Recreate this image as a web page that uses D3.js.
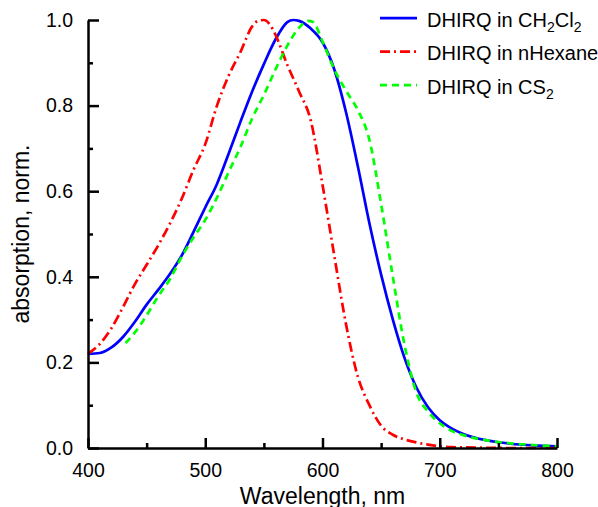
<!DOCTYPE html>
<html>
<head>
<meta charset="utf-8">
<script src="https://cdn.jsdelivr.net/npm/d3@7.9.0/dist/d3.min.js"></script>
<style>
  body { margin: 0; background: #fff; }
  svg { display: block; font-family: 'Liberation Sans', Arial, sans-serif; }
  .axis path, .axis line { stroke: #000; stroke-width: 2.5; }
  .axis text { font-size: 19.5px; fill: #000; }
</style>
</head>
<body>
<div id="chart"></div>
<script>
// wavelength (nm) / normalised absorption
const ch2cl2Wl  = [400, 410, 420, 430, 440, 450, 460, 470, 480, 490, 500, 510, 520, 530, 540, 550, 560, 570, 575, 580, 590, 600, 610, 620, 630, 640, 650, 660, 670, 680, 690, 700, 710, 720, 740, 760, 780, 800];
const ch2cl2Abs = [0.22, 0.222, 0.235, 0.26, 0.295, 0.335, 0.37, 0.407, 0.45, 0.505, 0.562, 0.617, 0.688, 0.762, 0.833, 0.897, 0.955, 0.995, 1.0, 0.998, 0.98, 0.948, 0.885, 0.785, 0.66, 0.525, 0.405, 0.3, 0.21, 0.142, 0.095, 0.065, 0.046, 0.033, 0.018, 0.01, 0.006, 0.004];

const hexaneWl  = [400, 410, 420, 430, 440, 450, 460, 470, 480, 490, 500, 510, 520, 530, 540, 545, 550, 555, 560, 570, 580, 590, 600, 610, 620, 630, 640, 650, 660, 670, 680, 690, 700, 710, 730, 760, 800];
const hexaneAbs = [0.22, 0.243, 0.28, 0.33, 0.383, 0.428, 0.474, 0.525, 0.583, 0.65, 0.71, 0.8, 0.87, 0.925, 0.985, 0.998, 1.0, 0.99, 0.965, 0.895, 0.833, 0.765, 0.615, 0.45, 0.29, 0.168, 0.1, 0.052, 0.031, 0.02, 0.013, 0.008, 0.004, 0.002, 0.001, 0.0, 0.0];

const cs2Wl  = [432, 440, 450, 460, 470, 480, 490, 500, 510, 520, 530, 540, 550, 560, 570, 580, 588, 592, 600, 610, 620, 630, 640, 650, 660, 670, 680, 690, 700, 710, 720, 740, 760, 780, 800];
const cs2Abs = [0.245, 0.27, 0.31, 0.355, 0.395, 0.447, 0.492, 0.533, 0.585, 0.645, 0.703, 0.77, 0.825, 0.885, 0.94, 0.982, 0.998, 0.995, 0.95, 0.885, 0.835, 0.79, 0.72, 0.57, 0.4, 0.24, 0.13, 0.085, 0.058, 0.04, 0.03, 0.018, 0.011, 0.007, 0.004];

const xMajor = [400, 500, 600, 700, 800];
const xMinor = [450, 550, 650, 750];
const yMajor = [0.0, 0.2, 0.4, 0.6, 0.8, 1.0];
const yMinor = [0.1, 0.3, 0.5, 0.7, 0.9];

const series = [
  { name: ['DHIRQ in CH', '2', 'Cl', '2'], wl: ch2cl2Wl, abs: ch2cl2Abs, color: '#0000ff', dash: null },
  { name: ['DHIRQ in nHexane'], wl: hexaneWl, abs: hexaneAbs, color: '#ff0000', dash: '10,4,2,4' },
  { name: ['DHIRQ in CS', '2'], wl: cs2Wl, abs: cs2Abs, color: '#00ff00', dash: '7,5' },
];

const width = 598;
const height = 507;
const margin = { top: 20, right: 41, bottom: 59, left: 88 };

const svg = d3.select('#chart')
  .append('svg')
  .attr('width', width)
  .attr('height', height);

const x = d3.scaleLinear().domain([400, 800]).range([margin.left, width - margin.right]);
const y = d3.scaleLinear().domain([0, 1]).range([height - margin.bottom, margin.top]);

// curves first so the axes sit on top
const line = d3.line()
  .x((d) => x(d[0]))
  .y((d) => y(d[1]))
  .curve(d3.curveMonotoneX);

svg.append('g')
  .selectAll('path')
  .data(series)
  .join('path')
  .attr('fill', 'none')
  .attr('stroke', (d) => d.color)
  .attr('stroke-width', 2.7)
  .attr('stroke-dasharray', (d) => d.dash)
  .attr('d', (d) => line(d.wl.map((w, i) => [w, d.abs[i]])));

// minor ticks
svg.append('g')
  .attr('class', 'axis')
  .attr('transform', `translate(0,${y(0)})`)
  .call(d3.axisBottom(x).tickValues(xMinor).tickSize(-5).tickFormat(''))
  .call((g) => g.select('.domain').remove());

svg.append('g')
  .attr('class', 'axis')
  .attr('transform', `translate(${x(400)},0)`)
  .call(d3.axisLeft(y).tickValues(yMinor).tickSize(-5).tickFormat(''))
  .call((g) => g.select('.domain').remove());

// major ticks + labels
svg.append('g')
  .attr('class', 'axis')
  .attr('transform', `translate(0,${y(0)})`)
  .call(d3.axisBottom(x).tickValues(xMajor).tickSize(-10).tickSizeOuter(0).tickPadding(15));

svg.append('g')
  .attr('class', 'axis')
  .attr('transform', `translate(${x(400)},0)`)
  .call(d3.axisLeft(y).tickValues(yMajor).tickSize(-11).tickSizeOuter(0).tickPadding(15)
    .tickFormat(d3.format('.1f')));

// axis titles
svg.append('text')
  .attr('x', (x(400) + x(800)) / 2)
  .attr('y', 504)
  .attr('text-anchor', 'middle')
  .style('font-size', '23px')
  .text('Wavelength, nm');

svg.append('text')
  .attr('transform', `translate(29,${(y(0) + y(1)) / 2}) rotate(-90)`)
  .attr('text-anchor', 'middle')
  .style('font-size', '23px')
  .text('absorption, norm.');

// legend
const legend = svg.append('g');
series.forEach((s, i) => {
  const base = 26.7 + i * 33.5;
  legend.append('line')
    .attr('x1', 380).attr('x2', 417)
    .attr('y1', base - 8.5).attr('y2', base - 8.5)
    .attr('stroke', s.color)
    .attr('stroke-width', 2.7)
    .attr('stroke-dasharray', s.dash);

  const t = legend.append('text')
    .attr('x', 427)
    .attr('y', base)
    .style('font-size', '20px');
  s.name.forEach((part, j) => {
    const sub = j % 2 === 1;
    t.append('tspan')
      .attr('dy', sub ? 5 : (j > 0 ? -5 : 0))
      .style('font-size', sub ? '14px' : '20px')
      .text(part);
  });
});
</script>
</body>
</html>
